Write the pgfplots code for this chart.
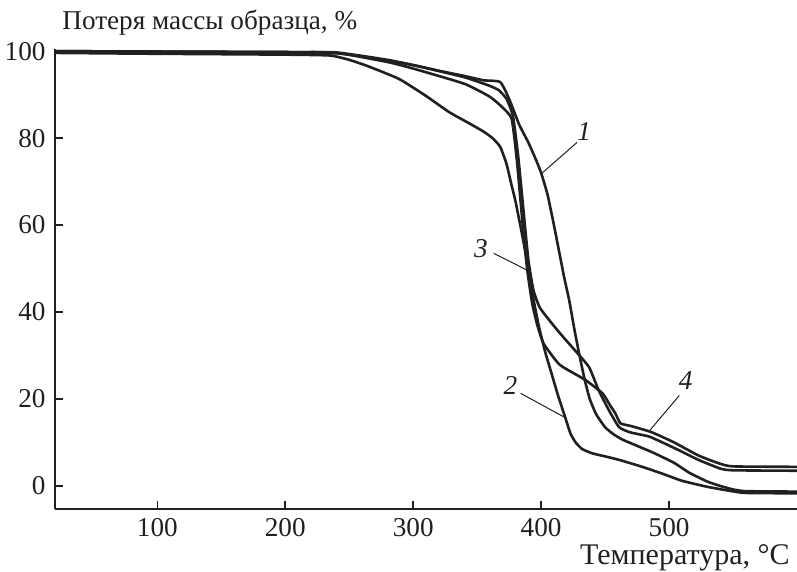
\documentclass[border=0pt]{standalone}
\usepackage{fontspec}
\setmainfont{Liberation Serif}
\usepackage{pgfplots}
\pgfplotsset{compat=1.18}
\definecolor{ink}{HTML}{231F20}
\begin{document}
\fontsize{13.6}{16}\selectfont
\begin{tikzpicture}
\useasboundingbox (-27.5pt,-31.5pt) rectangle (371pt,254.5pt);
\begin{axis}[
  at={(0,0)}, anchor=south west,
  width=371pt, height=230pt, scale only axis,
  xmin=20, xmax=600, ymin=-5.3, ymax=100.5,
  axis x line=bottom, axis y line=left,
  axis line style={-, draw=ink, line width=0.8pt},
  xtick={100,200,300,400,500}, ytick={0,20,40,60,80,100},
  tick align=inside, major tick length=4pt,
  tick style={draw=ink, line width=0.8pt},
  ticklabel style={font=\fontsize{13.6}{16}\selectfont, text=ink},
  /pgf/number format/assume math mode=true,
  clip=false,
]
% curve 1
\addplot[ink, line width=1.3pt, smooth, tension=0.3] coordinates {
(20,99.8)(100,99.8)(200,99.6)(240,99.5)(260,98.8)(280,97.8)(300,96.8)(320,95.5)(340,94.3)(355,93.3)(368,92.9)(375,89)(383,83)(390,79)(396,75)(400,72)(405,67)(410,60)(414,54)(418,48)(422,42.6)(426,36)(430,30)(434,24.5)(438,20)(443,16.5)(450,13.5)(457,11.8)(464,10.6)(472,9.6)(488,7.6)(504,5.3)(516,3)(530,1)(540,0)(550,-0.8)(560,-1.2)(600,-1.3)};
% curve 2
\addplot[ink, line width=1.3pt, smooth, tension=0.3] coordinates {
(20,99.6)(100,99.4)(200,99.2)(235,99)(250,98)(265,96.5)(289,93.6)(310,89.7)(328,86)(345,83.2)(355,81.5)(362,80)(368,78)(373,74)(377,69)(380,65.4)(385,58)(390,50)(394,43)(398,37)(403,31)(408,26)(413,21)(419,15.6)(423,12)(427,10)(432,8.5)(440,7.5)(450,6.8)(461,6)(479,4.4)(495,2.8)(510,1.2)(530,-0.2)(549,-1.2)(560,-1.6)(600,-1.7)};
% curve 3
\addplot[ink, line width=1.3pt, smooth, tension=0.3] coordinates {
(20,100)(200,99.8)(240,99.7)(280,98)(300,96.8)(340,94)(360,92)(367,91)(373,89)(378,85)(382,76)(386,64)(390,52)(394,45)(399,41)(408.6,37.3)(418,34)(427,31)(437.5,27.3)(445,22)(453,17.4)(461,13.5)(470,12.3)(485,11.3)(505,8.6)(523,6)(540,4)(550,3.6)(600,3.5)};
% curve 4
\addplot[ink, line width=1.3pt, smooth, tension=0.3] coordinates {
(20,100)(200,99.8)(240,99.6)(280,97.5)(300,96)(340,92.5)(360,89.5)(370,87)(377,84.4)(381,75)(385,62)(389,50)(393,42)(397,37)(402,32.7)(414,28)(425,26)(435,24.3)(448,21.3)(454,18.5)(458,16.7)(462,14.4)(470,13.8)(486,12.4)(504,10)(523,7)(539,5.2)(550,4.5)(600,4.4)};
% labels
\node[text=ink, font=\itshape\fontsize{13.6}{16}\selectfont] at (axis cs:433.6,81.5) {1};
\draw[ink, line width=0.5pt] (axis cs:428,79) -- (axis cs:400.5,71.9);
\node[text=ink, font=\itshape\fontsize{13.6}{16}\selectfont] at (axis cs:353,54.5) {3};
\draw[ink, line width=0.5pt] (axis cs:363,53.5) -- (axis cs:390.6,49.4);
\node[text=ink, font=\itshape\fontsize{13.6}{16}\selectfont] at (axis cs:376,23) {2};
\draw[ink, line width=0.5pt] (axis cs:384,21.3) -- (axis cs:419.5,15.6);
\node[text=ink, font=\itshape\fontsize{13.6}{16}\selectfont] at (axis cs:513,24.3) {4};
\draw[ink, line width=0.5pt] (axis cs:508,20.8) -- (axis cs:484.4,12.6);
% axis titles
\node[text=ink, anchor=base west, inner sep=0pt] at ([xshift=3.5pt,yshift=9.5pt]rel axis cs:0,1) {Потеря массы образца, \%};
\node[text=ink, anchor=base east, inner sep=0pt, font=\fontsize{15}{17}\selectfont] at ([xshift=-3.5pt,yshift=-27.5pt]rel axis cs:1,0) {Температура, °C};
\end{axis}
\end{tikzpicture}
\end{document}
